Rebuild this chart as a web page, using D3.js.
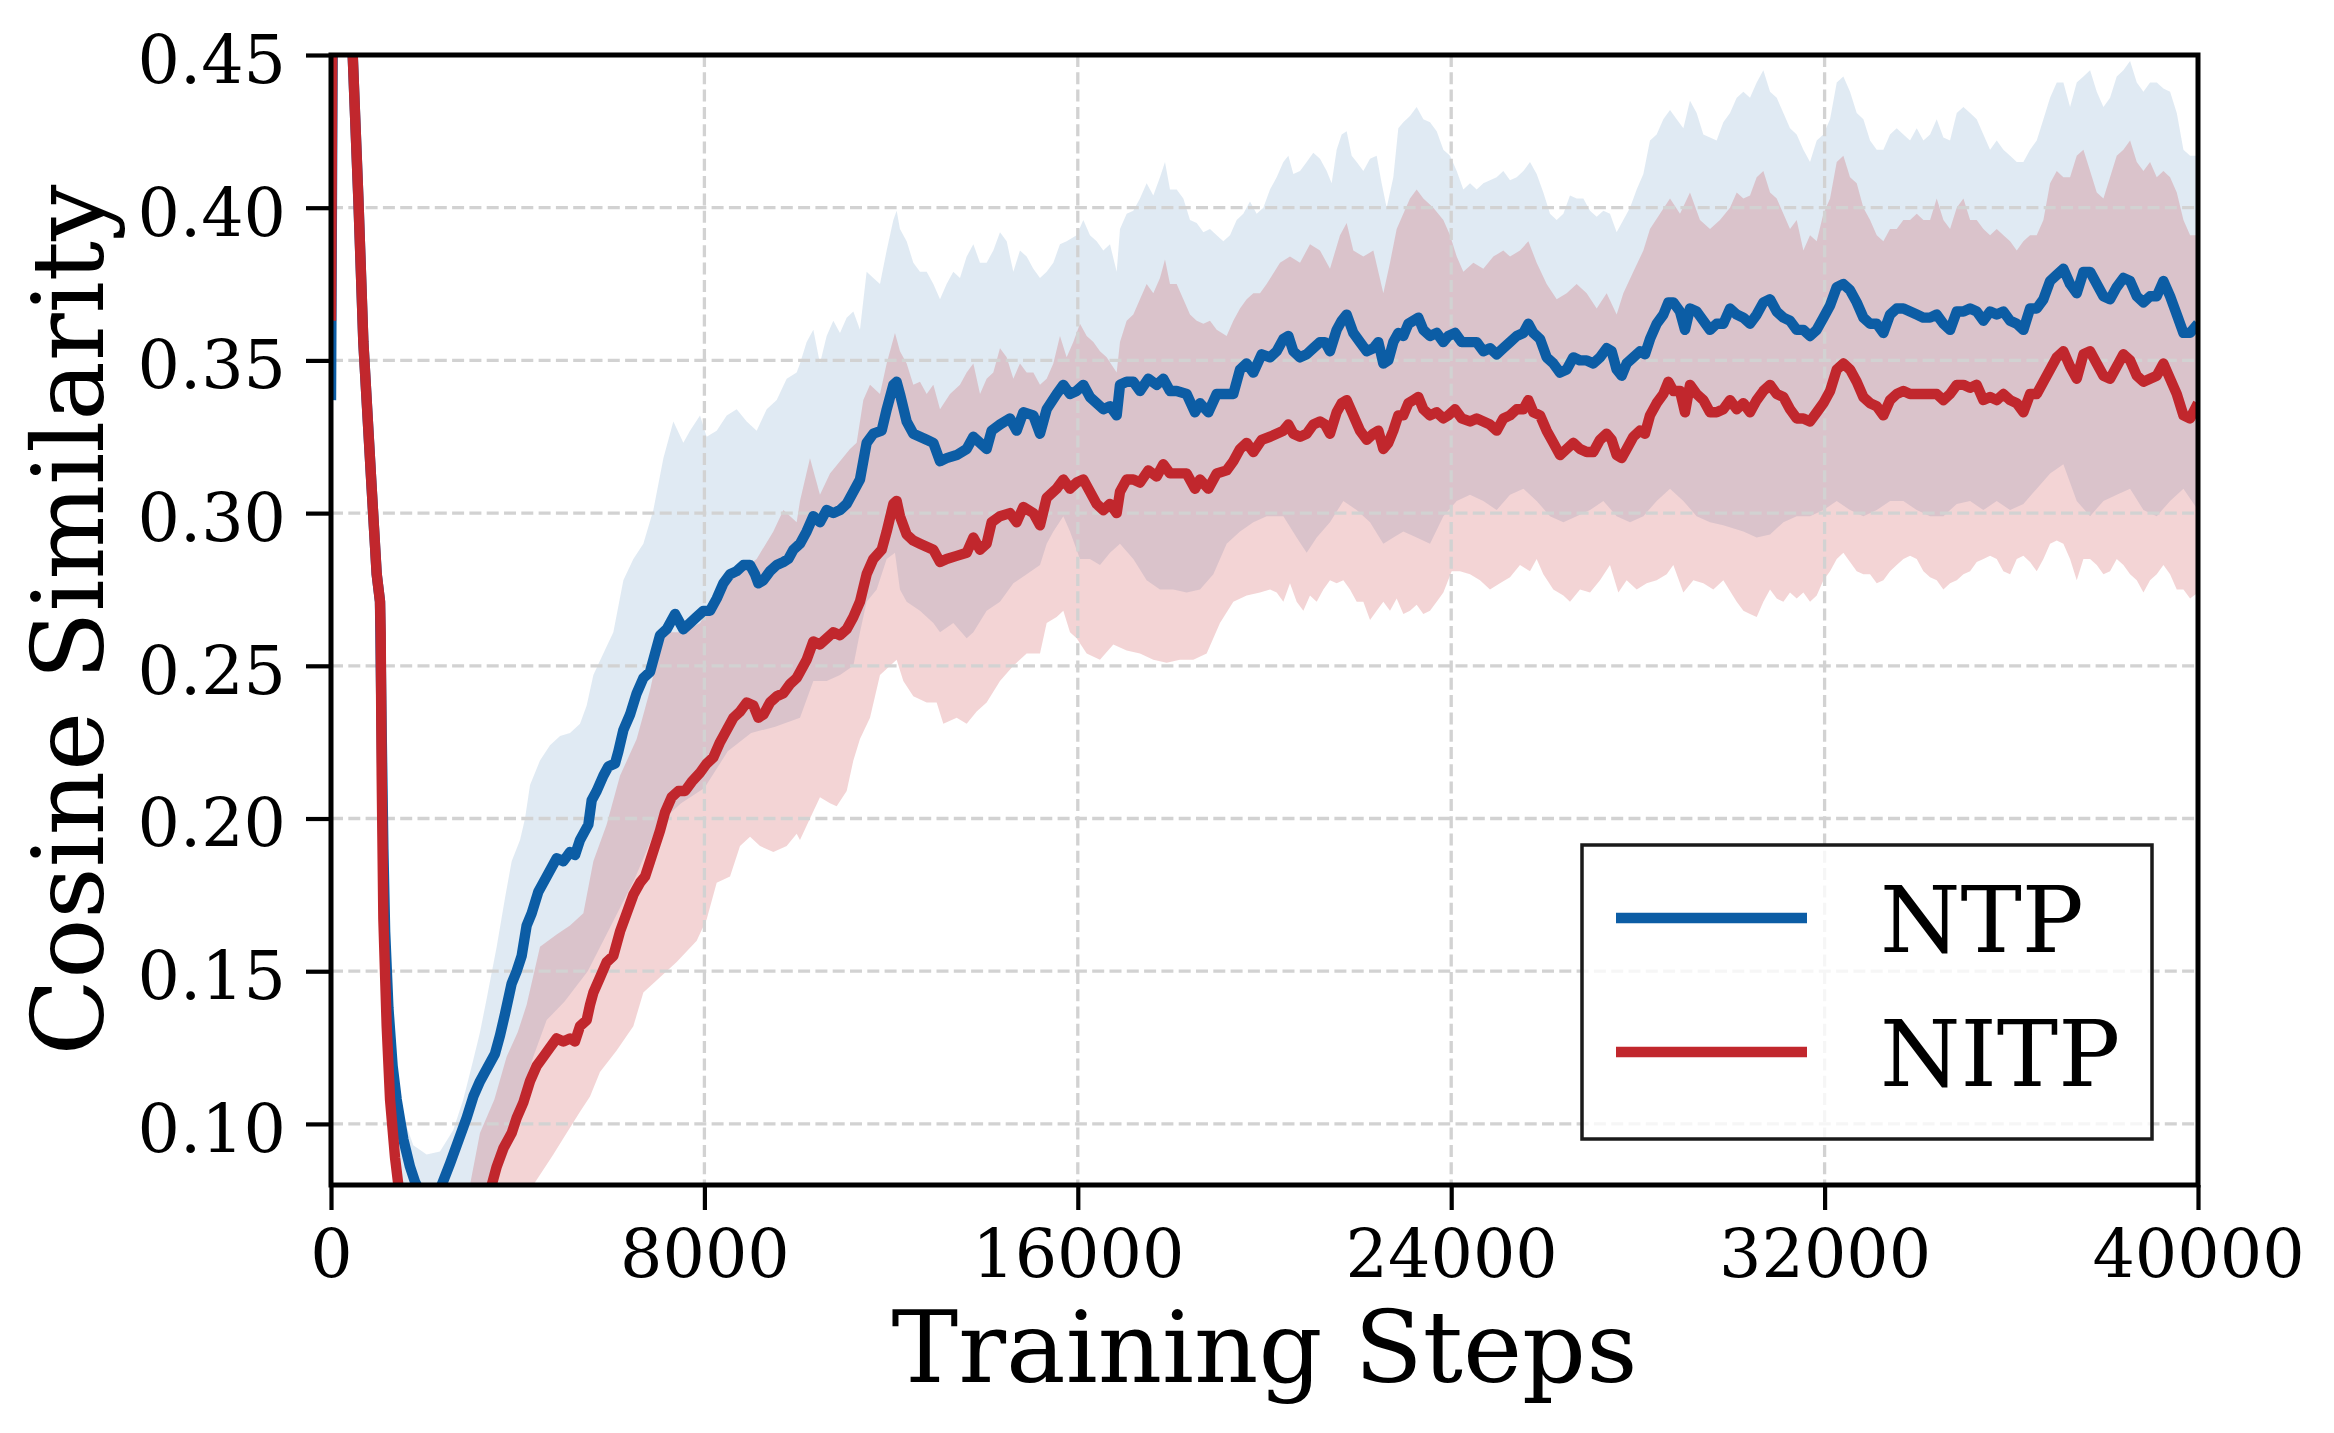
<!DOCTYPE html>
<html><head><meta charset="utf-8">
<script src="https://cdn.jsdelivr.net/npm/d3@7"></script>
<style>
html,body{margin:0;padding:0;background:#fff;}
svg{display:block;}
text{font-family:"DejaVu Serif",serif;fill:#000;}
</style></head><body>
<svg id="chart" width="2334" height="1433"></svg>
<script>
// ---------------- data ----------------
const xTicks = [0, 8000, 16000, 24000, 32000, 40000];
const yTicks = [0.10, 0.15, 0.20, 0.25, 0.30, 0.35, 0.40, 0.45];
const seriesNames = ["NTP", "NITP"];
const xLabel = "Training Steps";
const yLabel = "Cosine Similarity";

// [step, value]
const ntpMean = [
[0,0.337],[50,0.50],[100,0.56],[200,0.58],[300,0.54],[400,0.49],[465,0.45],[586,0.403],[693,0.356],[872,0.308],[979,0.280],[1050,0.271],[1086,0.228],[1122,0.190],[1160,0.163],[1230,0.138],[1320,0.119],[1407,0.108],[1549,0.095],[1692,0.086],[1800,0.081],[2000,0.075],[2200,0.074],[2372,0.080],[2550,0.087],[2693,0.093],[2907,0.102],[3050,0.109],[3193,0.114],[3371,0.119],[3514,0.123],[3621,0.129],[3728,0.136],[3871,0.146],[3978,0.150],[4085,0.155],[4192,0.165],[4300,0.169],[4442,0.176],[4621,0.181],[4835,0.187],[4978,0.186],[5121,0.189],[5228,0.188],[5335,0.193],[5514,0.198],[5585,0.206],[5692,0.209],[5835,0.214],[5942,0.217],[6085,0.218],[6157,0.222],[6264,0.229],[6406,0.234],[6549,0.241],[6692,0.246],[6835,0.248],[6942,0.254],[7049,0.260],[7192,0.262],[7371,0.267],[7549,0.262],[7692,0.264],[7835,0.266],[7978,0.268],[8120,0.268],[8263,0.272],[8406,0.277],[8549,0.280],[8692,0.281],[8835,0.283],[8978,0.283],[9084,0.280],[9156,0.277],[9263,0.278],[9406,0.281],[9549,0.283],[9692,0.284],[9798,0.285],[9906,0.288],
[10048,0.290],[10191,0.294],[10334,0.299],[10476,0.297],[10619,0.301],[10762,0.300],[10905,0.301],[11048,0.303],[11191,0.307],[11333,0.311],[11476,0.323],[11619,0.326],[11798,0.327],[11906,0.334],[12048,0.342],[12119,0.343],[12190,0.339],[12333,0.330],[12476,0.326],[12619,0.325],[12762,0.324],[12905,0.323],[13048,0.317],[13190,0.318],[13405,0.319],[13619,0.321],[13762,0.325],[13905,0.323],[14047,0.321],[14154,0.327],[14333,0.329],[14547,0.331],[14690,0.327],[14833,0.333],[15047,0.332],[15190,0.326],[15333,0.334],[15547,0.339],[15690,0.342],[15833,0.339],[15975,0.340],[16118,0.342],[16261,0.338],[16404,0.336],[16547,0.334],[16690,0.335],[16833,0.332],[16904,0.342],[17047,0.343],[17190,0.343],[17332,0.340],[17511,0.344],[17690,0.342],[17832,0.344],[17975,0.340],[18118,0.340],[18332,0.339],[18511,0.333],[18618,0.336],[18797,0.333],[18975,0.339],[19189,0.339],[19332,0.339],[19475,0.347],[19618,0.349],[19761,0.346],[19939,0.352],[20118,0.351],
[20261,0.353],[20404,0.357],[20511,0.358],[20618,0.353],[20761,0.351],[20904,0.352],[21046,0.354],[21189,0.356],[21296,0.356],[21403,0.353],[21546,0.360],[21653,0.363],[21760,0.365],[21903,0.359],[22046,0.356],[22189,0.353],[22332,0.354],[22439,0.356],[22546,0.349],[22653,0.350],[22760,0.356],[22867,0.359],[22974,0.358],[23082,0.362],[23189,0.363],[23296,0.364],[23403,0.360],[23546,0.358],[23689,0.359],[23832,0.356],[23939,0.358],[24081,0.359],[24224,0.356],[24403,0.356],[24546,0.356],[24689,0.353],[24831,0.354],[24974,0.352],[25117,0.354],[25260,0.356],[25403,0.358],[25546,0.359],[25653,0.362],[25760,0.359],[25903,0.357],[26045,0.351],[26188,0.349],[26331,0.346],[26474,0.347],[26617,0.351],[26760,0.350],[26903,0.350],[27045,0.349],[27188,0.351],[27331,0.354],[27438,0.353],[27545,0.347],[27652,0.345],[27759,0.349],[27902,0.351],[28045,0.353],[28152,0.352],[28259,0.357],[28402,0.362],[28545,0.365],[28652,0.369],[28759,0.369],[28902,0.366],[29009,0.360],[29116,0.367],[29259,0.366],[29402,0.363],[29545,0.360],[29687,0.362],[29830,0.362],
[29974,0.367],[30117,0.365],[30260,0.364],[30402,0.362],[30545,0.365],[30688,0.369],[30831,0.370],[30974,0.366],[31117,0.364],[31259,0.363],[31402,0.360],[31545,0.360],[31688,0.358],[31831,0.360],[31974,0.364],[32117,0.368],[32260,0.374],[32402,0.375],[32545,0.373],[32688,0.369],[32831,0.364],[32974,0.362],[33117,0.362],[33259,0.359],[33402,0.365],[33545,0.367],[33688,0.367],[33831,0.366],[33974,0.365],[34117,0.364],[34260,0.364],[34402,0.365],[34545,0.362],[34688,0.360],[34831,0.366],[34974,0.366],[35117,0.367],[35259,0.366],[35402,0.363],[35545,0.366],[35688,0.365],[35831,0.366],[35974,0.363],[36117,0.362],[36259,0.360],[36402,0.367],[36545,0.367],[36688,0.370],[36831,0.376],[36974,0.378],[37116,0.380],[37259,0.375],[37402,0.372],[37545,0.379],[37688,0.379],[37831,0.375],[37974,0.371],[38116,0.370],[38259,0.374],[38402,0.377],[38545,0.376],[38688,0.371],[38831,0.369],[38973,0.371],[39116,0.371],[39259,0.376],[39402,0.371],[39545,0.365],[39688,0.359],[39831,0.359],[40000,0.362]
];

const nitpMean = [
[0,0.363],[50,0.52],[100,0.57],[200,0.58],[300,0.54],[400,0.48],[465,0.45],[586,0.403],[693,0.356],[872,0.308],[979,0.280],[1050,0.271],[1064,0.261],[1086,0.214],[1122,0.167],[1193,0.132],[1265,0.108],[1372,0.089],[1443,0.080],[1600,0.068],[2000,0.056],[2500,0.055],[3000,0.066],[3300,0.075],[3443,0.080],
[3550,0.086],[3693,0.092],[3871,0.097],[3978,0.102],[4121,0.107],[4264,0.114],[4407,0.119],[4550,0.122],[4692,0.125],[4835,0.128],[4978,0.127],[5121,0.128],[5228,0.127],[5335,0.132],[5478,0.134],[5549,0.139],[5621,0.143],[5764,0.148],[5906,0.153],[6049,0.155],[6192,0.163],[6335,0.169],[6478,0.175],[6621,0.179],[6728,0.181],[6835,0.186],[6942,0.191],[7049,0.196],[7156,0.202],[7299,0.207],[7442,0.209],[7585,0.209],[7728,0.212],[7906,0.215],[8049,0.218],[8192,0.220],[8335,0.225],[8478,0.229],[8621,0.233],[8763,0.235],[8906,0.238],[9049,0.237],[9156,0.233],[9263,0.234],[9406,0.238],[9549,0.240],[9692,0.241],[9834,0.244],[9977,0.246],
[10048,0.248],[10191,0.252],[10334,0.258],[10476,0.257],[10619,0.259],[10762,0.261],[10905,0.260],[11048,0.262],[11191,0.266],[11333,0.271],[11476,0.280],[11619,0.285],[11798,0.288],[11906,0.294],[12048,0.303],[12119,0.304],[12190,0.299],[12333,0.293],[12476,0.291],[12619,0.290],[12762,0.289],[12905,0.288],[13048,0.284],[13190,0.285],[13405,0.286],[13619,0.287],[13762,0.292],[13905,0.288],[14047,0.290],[14154,0.297],[14333,0.299],[14547,0.300],[14690,0.297],[14833,0.302],[15047,0.300],[15190,0.296],[15333,0.305],[15547,0.308],[15690,0.311],[15833,0.308],[15975,0.310],[16118,0.311],[16261,0.307],[16404,0.303],[16547,0.301],[16690,0.303],[16833,0.300],[16904,0.307],[17047,0.311],[17190,0.311],[17332,0.310],[17511,0.314],[17690,0.312],[17832,0.316],[17975,0.313],[18118,0.313],[18332,0.313],[18511,0.308],[18618,0.311],[18797,0.308],[18975,0.313],[19189,0.314],[19332,0.317],[19475,0.321],[19618,0.323],[19761,0.320],[19939,0.324],[20118,0.325],
[20261,0.326],[20404,0.327],[20511,0.329],[20618,0.326],[20761,0.325],[20904,0.326],[21046,0.329],[21189,0.330],[21296,0.329],[21403,0.326],[21546,0.333],[21653,0.336],[21760,0.337],[21903,0.332],[22046,0.327],[22189,0.324],[22332,0.326],[22439,0.327],[22546,0.321],[22653,0.323],[22760,0.327],[22867,0.332],[22974,0.332],[23082,0.336],[23189,0.337],[23296,0.338],[23403,0.334],[23546,0.332],[23689,0.333],[23832,0.331],[23939,0.332],[24081,0.334],[24224,0.331],[24403,0.330],[24546,0.331],[24689,0.330],[24831,0.329],[24974,0.327],[25117,0.331],[25260,0.332],[25403,0.334],[25546,0.334],[25653,0.337],[25760,0.333],[25903,0.332],[26045,0.327],[26188,0.323],[26331,0.319],[26474,0.321],[26617,0.323],[26760,0.321],[26903,0.320],[27045,0.320],[27188,0.324],[27331,0.326],[27438,0.324],[27545,0.319],[27652,0.318],[27759,0.321],[27902,0.325],[28045,0.327],[28152,0.326],[28259,0.332],[28402,0.336],[28545,0.339],[28652,0.343],[28759,0.340],[28902,0.340],[29009,0.333],[29116,0.342],[29259,0.339],[29402,0.337],[29545,0.333],[29687,0.333],[29830,0.334],
[29974,0.337],[30117,0.334],[30260,0.336],[30402,0.333],[30545,0.337],[30688,0.340],[30831,0.342],[30974,0.339],[31117,0.338],[31259,0.334],[31402,0.331],[31545,0.331],[31688,0.330],[31831,0.333],[31974,0.336],[32117,0.340],[32260,0.347],[32402,0.349],[32545,0.347],[32688,0.343],[32831,0.338],[32974,0.336],[33117,0.335],[33259,0.332],[33402,0.337],[33545,0.339],[33688,0.340],[33831,0.339],[33974,0.339],[34117,0.339],[34260,0.339],[34402,0.339],[34545,0.337],[34688,0.339],[34831,0.342],[34974,0.342],[35117,0.341],[35259,0.342],[35402,0.337],[35545,0.338],[35688,0.337],[35831,0.339],[35974,0.337],[36117,0.336],[36259,0.333],[36402,0.339],[36545,0.339],[36688,0.343],[36831,0.347],[36974,0.351],[37116,0.353],[37259,0.348],[37402,0.344],[37545,0.352],[37688,0.353],[37831,0.349],[37974,0.345],[38116,0.344],[38259,0.348],[38402,0.352],[38545,0.350],[38688,0.345],[38831,0.343],[38973,0.344],[39116,0.345],[39259,0.349],[39402,0.344],[39545,0.339],[39688,0.332],[39831,0.331],[40000,0.336]
];

const ntpUpper = [
[0,0.340],[50,0.52],[100,0.58],[200,0.595],[300,0.555],[400,0.50],[465,0.465],[586,0.418],[693,0.371],[872,0.323],[979,0.295],[1050,0.284],[1100,0.240],[1160,0.180],[1230,0.152],[1320,0.132],[1407,0.118],[1500,0.107],[1600,0.100],[1763,0.093],[2049,0.090],[2335,0.091],[2620,0.098],[2834,0.108],[3049,0.121],[3192,0.130],[3335,0.141],[3550,0.158],[3728,0.174],[3871,0.186],[4050,0.193],[4157,0.200],[4264,0.211],[4478,0.219],[4692,0.224],[4907,0.227],[5121,0.228],[5335,0.231],[5478,0.237],[5621,0.247],[5835,0.254],[6049,0.261],[6264,0.278],[6478,0.285],[6692,0.290],[6906,0.301],[7121,0.318],[7335,0.330],[7549,0.323],[7692,0.327],[7906,0.332],[8049,0.325],[8263,0.327],[8478,0.332],[8692,0.334],[8906,0.330],[9120,0.327],[9335,0.334],[9549,0.337],[9763,0.344],[9977,0.346],
[10048,0.349],[10191,0.356],[10334,0.360],[10476,0.349],[10619,0.358],[10762,0.363],[10905,0.359],[11048,0.364],[11191,0.366],[11333,0.360],[11476,0.379],[11619,0.377],[11762,0.375],[11905,0.386],[12048,0.396],[12119,0.399],[12190,0.393],[12333,0.389],[12476,0.382],[12619,0.379],[12762,0.379],[12905,0.375],[13048,0.370],[13190,0.375],[13333,0.379],[13476,0.377],[13619,0.384],[13762,0.388],[13904,0.382],[14047,0.382],[14190,0.386],[14333,0.392],[14476,0.389],[14619,0.379],[14761,0.386],[14904,0.384],[15047,0.380],[15190,0.377],[15333,0.379],[15476,0.382],[15618,0.388],[15761,0.389],[15975,0.391],[16118,0.396],[16261,0.391],[16404,0.389],[16547,0.386],[16690,0.388],[16833,0.379],[16904,0.393],[17047,0.398],[17190,0.399],[17332,0.403],[17475,0.408],[17618,0.404],[17761,0.410],[17868,0.415],[17975,0.406],[18118,0.406],[18261,0.403],[18404,0.396],[18547,0.395],[18690,0.392],[18832,0.393],[18975,0.391],[19118,0.389],[19261,0.391],[19404,0.396],[19546,0.398],[19689,0.402],[19832,0.398],[19975,0.400],[20118,0.406],
[20261,0.410],[20404,0.415],[20511,0.417],[20618,0.411],[20761,0.412],[20904,0.415],[21046,0.418],[21189,0.416],[21332,0.412],[21439,0.408],[21546,0.419],[21653,0.424],[21760,0.425],[21868,0.417],[21975,0.415],[22118,0.412],[22261,0.416],[22403,0.417],[22510,0.408],[22618,0.400],[22760,0.410],[22867,0.426],[22974,0.428],[23117,0.430],[23260,0.433],[23403,0.429],[23546,0.428],[23689,0.425],[23832,0.419],[23975,0.417],[24118,0.412],[24260,0.406],[24403,0.408],[24546,0.406],[24689,0.408],[24831,0.409],[24974,0.410],[25117,0.412],[25260,0.409],[25403,0.410],[25546,0.412],[25688,0.415],[25831,0.411],[25974,0.405],[26117,0.398],[26260,0.396],[26403,0.398],[26545,0.404],[26688,0.403],[26831,0.403],[26974,0.399],[27117,0.397],[27260,0.399],[27402,0.398],[27545,0.392],[27688,0.396],[27831,0.400],[27974,0.406],[28117,0.411],[28259,0.422],[28402,0.424],[28545,0.429],[28688,0.432],[28831,0.429],[28974,0.426],[29116,0.435],[29259,0.431],[29402,0.424],[29545,0.423],[29687,0.422],[29830,0.428],
[29974,0.431],[30117,0.436],[30260,0.438],[30402,0.436],[30545,0.441],[30688,0.445],[30831,0.438],[30974,0.436],[31117,0.431],[31259,0.426],[31402,0.424],[31545,0.419],[31688,0.415],[31831,0.422],[31974,0.424],[32117,0.429],[32260,0.441],[32402,0.443],[32545,0.438],[32688,0.431],[32831,0.429],[32974,0.422],[33117,0.419],[33259,0.419],[33402,0.424],[33545,0.426],[33688,0.424],[33831,0.422],[33974,0.426],[34117,0.422],[34260,0.424],[34402,0.429],[34545,0.423],[34688,0.422],[34831,0.431],[34974,0.433],[35117,0.431],[35259,0.429],[35402,0.424],[35545,0.419],[35688,0.422],[35831,0.419],[35974,0.417],[36117,0.415],[36259,0.415],[36402,0.419],[36545,0.422],[36688,0.429],[36831,0.436],[36974,0.441],[37116,0.441],[37259,0.433],[37402,0.441],[37545,0.443],[37688,0.445],[37831,0.438],[37974,0.433],[38116,0.436],[38259,0.443],[38402,0.445],[38545,0.448],[38688,0.441],[38831,0.438],[38973,0.441],[39116,0.441],[39259,0.439],[39402,0.438],[39545,0.431],[39688,0.419],[39831,0.417],[40000,0.417]
];

const ntpLower = [
[0,0.337],[50,0.495],[100,0.555],[200,0.575],[300,0.535],[400,0.485],[465,0.445],[586,0.398],[693,0.351],[872,0.303],[979,0.275],[1050,0.266],[1086,0.220],[1122,0.170],[1160,0.140],[1230,0.115],[1320,0.100],[1407,0.090],[1500,0.080],[1600,0.070],[2000,0.055],[2500,0.055],[3000,0.065],[3500,0.080],[3906,0.095],[4049,0.108],[4334,0.122],[4620,0.134],[5000,0.140],[5500,0.150],[6000,0.165],[6500,0.180],[7000,0.198],[7500,0.205],[8000,0.210],[8500,0.222],[9000,0.228],[9500,0.230],
[10048,0.233],[10334,0.245],[10619,0.245],[10905,0.247],[11191,0.250],[11333,0.261],[11476,0.271],[11691,0.275],[11905,0.285],[12083,0.287],[12190,0.275],[12333,0.271],[12619,0.268],[12905,0.264],[13048,0.261],[13333,0.264],[13619,0.259],[13762,0.261],[14047,0.268],[14333,0.271],[14619,0.277],[14904,0.280],[15190,0.283],[15333,0.290],[15476,0.294],[15690,0.299],[15833,0.294],[16047,0.285],[16261,0.285],[16475,0.283],[16690,0.287],[16904,0.290],[17190,0.285],[17475,0.278],[17761,0.275],[18047,0.275],[18332,0.274],[18618,0.275],[18904,0.280],[19189,0.290],[19475,0.294],[19761,0.297],[20046,0.299],
[20404,0.299],[20689,0.292],[20904,0.287],[21118,0.292],[21403,0.297],[21689,0.304],[21975,0.301],[22261,0.297],[22546,0.290],[22760,0.292],[22975,0.294],[23260,0.292],[23546,0.290],[23832,0.299],[24118,0.304],[24403,0.306],[24689,0.304],[24974,0.301],[25260,0.306],[25546,0.308],[25831,0.304],[26117,0.299],[26403,0.297],[26688,0.299],[26974,0.301],[27260,0.304],[27545,0.299],[27831,0.297],[28117,0.299],[28402,0.304],[28688,0.308],[28974,0.304],[29259,0.299],[29545,0.297],[29830,0.296],
[30260,0.294],[30545,0.292],[30831,0.293],[31117,0.297],[31402,0.299],[31688,0.299],[31974,0.301],[32260,0.304],[32545,0.301],[32831,0.299],[33117,0.301],[33402,0.304],[33688,0.304],[33974,0.301],[34260,0.299],[34545,0.299],[34831,0.303],[35117,0.304],[35402,0.301],[35688,0.304],[35974,0.301],[36259,0.303],[36545,0.308],[36831,0.313],[37116,0.316],[37402,0.304],[37688,0.299],[37974,0.304],[38259,0.306],[38545,0.308],[38831,0.301],[39116,0.299],[39402,0.304],[39688,0.308],[40000,0.301]
];

const nitpUpper = [
[0,0.363],[50,0.525],[100,0.575],[200,0.585],[300,0.545],[400,0.485],[465,0.455],[586,0.408],[693,0.361],[872,0.313],[979,0.285],[1050,0.276],[1064,0.266],[1086,0.219],[1122,0.172],[1193,0.137],[1265,0.113],[1372,0.094],[1443,0.085],[1600,0.075],[2000,0.065],[2500,0.068],[2978,0.080],[3192,0.097],[3500,0.108],[3763,0.122],[4000,0.130],[4192,0.139],[4478,0.158],[4835,0.162],[5121,0.165],[5407,0.169],[5621,0.186],[5906,0.198],[6192,0.214],[6549,0.226],[6835,0.242],[7049,0.257],[7192,0.261],[7549,0.261],[7906,0.264],[8335,0.275],[8692,0.280],[9120,0.285],[9477,0.294],[9692,0.301],[9977,0.297],
[10048,0.304],[10262,0.318],[10476,0.306],[10691,0.313],[10905,0.317],[11119,0.321],[11262,0.323],[11405,0.337],[11548,0.342],[11762,0.339],[11905,0.349],[12083,0.359],[12190,0.353],[12333,0.349],[12476,0.342],[12619,0.343],[12762,0.339],[12905,0.342],[13048,0.334],[13262,0.339],[13476,0.342],[13619,0.346],[13762,0.349],[13905,0.339],[14047,0.344],[14190,0.346],[14333,0.354],[14476,0.351],[14619,0.344],[14761,0.349],[14904,0.346],[15047,0.346],[15190,0.342],[15333,0.344],[15476,0.349],[15618,0.358],[15761,0.351],[15904,0.356],[16047,0.362],[16190,0.358],[16333,0.356],[16475,0.353],[16618,0.351],[16833,0.346],[16904,0.356],[17047,0.363],[17190,0.365],[17332,0.370],[17475,0.375],[17618,0.372],[17761,0.377],[17868,0.383],[17975,0.375],[18118,0.375],[18261,0.370],[18404,0.365],[18547,0.363],[18690,0.362],[18832,0.363],[18975,0.360],[19189,0.358],[19332,0.363],[19475,0.367],[19618,0.370],[19761,0.372],[19903,0.372],[20046,0.375],
[20332,0.382],[20546,0.384],[20761,0.382],[20975,0.388],[21189,0.386],[21403,0.380],[21618,0.391],[21760,0.395],[21903,0.386],[22118,0.384],[22332,0.386],[22546,0.372],[22689,0.382],[22832,0.393],[22974,0.398],[23117,0.403],[23260,0.406],[23403,0.403],[23617,0.400],[23832,0.396],[23975,0.391],[24118,0.384],[24260,0.379],[24475,0.382],[24689,0.380],[24903,0.384],[25117,0.386],[25260,0.384],[25474,0.386],[25653,0.389],[25831,0.382],[26045,0.375],[26260,0.370],[26474,0.372],[26688,0.375],[26903,0.372],[27117,0.367],[27331,0.372],[27545,0.365],[27688,0.372],[27902,0.379],[28117,0.386],[28259,0.393],[28473,0.398],[28688,0.403],[28902,0.398],[29116,0.405],[29330,0.396],[29545,0.393],[29759,0.396],[29973,0.400],
[30117,0.405],[30260,0.403],[30402,0.404],[30545,0.410],[30688,0.412],[30831,0.405],[30974,0.403],[31117,0.398],[31259,0.393],[31402,0.396],[31545,0.386],[31688,0.391],[31831,0.389],[31974,0.398],[32117,0.403],[32260,0.415],[32402,0.417],[32545,0.410],[32688,0.408],[32831,0.400],[32974,0.396],[33117,0.391],[33259,0.389],[33402,0.393],[33545,0.393],[33688,0.396],[33831,0.396],[33974,0.398],[34117,0.396],[34260,0.396],[34402,0.403],[34545,0.396],[34688,0.393],[34831,0.400],[34974,0.403],[35117,0.396],[35259,0.396],[35402,0.393],[35545,0.391],[35688,0.393],[35831,0.391],[35974,0.389],[36117,0.386],[36259,0.389],[36402,0.391],[36545,0.391],[36688,0.396],[36831,0.408],[36974,0.412],[37116,0.410],[37259,0.410],[37402,0.417],[37545,0.419],[37688,0.412],[37831,0.405],[37974,0.403],[38116,0.410],[38259,0.417],[38402,0.419],[38545,0.422],[38688,0.415],[38831,0.412],[38973,0.415],[39116,0.410],[39259,0.412],[39402,0.410],[39545,0.405],[39688,0.396],[39831,0.391],[40000,0.391]
];

const nitpLower = [
[0,0.358],[50,0.515],[100,0.565],[200,0.575],[300,0.535],[400,0.475],[465,0.445],[586,0.398],[693,0.351],[872,0.303],[979,0.275],[1050,0.266],[1064,0.256],[1086,0.209],[1122,0.162],[1193,0.127],[1265,0.103],[1372,0.084],[1443,0.075],[1600,0.060],[2000,0.045],[3000,0.045],[4000,0.065],[4334,0.080],[4763,0.090],[5049,0.097],[5335,0.104],[5549,0.109],[5763,0.117],[6120,0.124],[6477,0.132],[6692,0.143],[7049,0.148],[7406,0.153],[7835,0.160],[8049,0.167],[8263,0.179],[8549,0.181],[8763,0.191],[8978,0.194],[9192,0.191],[9477,0.189],[9763,0.191],[9977,0.195],
[10048,0.193],[10262,0.200],[10476,0.207],[10691,0.205],[10834,0.204],[11048,0.209],[11191,0.219],[11333,0.226],[11548,0.233],[11762,0.247],[11976,0.250],[12119,0.252],[12262,0.245],[12476,0.240],[12762,0.238],[12976,0.238],[13119,0.231],[13405,0.233],[13619,0.231],[13833,0.235],[14047,0.238],[14333,0.245],[14619,0.250],[14904,0.254],[15190,0.254],[15333,0.264],[15547,0.266],[15690,0.268],[15833,0.261],[15975,0.259],[16190,0.254],[16475,0.252],[16761,0.257],[17047,0.255],[17332,0.254],[17618,0.252],[17904,0.251],[18189,0.252],[18475,0.252],[18761,0.254],[19046,0.264],[19332,0.271],[19618,0.273],[19903,0.274],[20118,0.275],
[20261,0.274],[20404,0.271],[20546,0.277],[20689,0.271],[20832,0.268],[20975,0.273],[21118,0.271],[21261,0.275],[21403,0.278],[21546,0.277],[21689,0.278],[21832,0.275],[21975,0.271],[22118,0.271],[22261,0.265],[22403,0.268],[22546,0.271],[22689,0.268],[22832,0.272],[22975,0.267],[23117,0.268],[23260,0.270],[23403,0.267],[23546,0.268],[23689,0.271],[23832,0.274],[24010,0.281],[24189,0.281],[24403,0.280],[24617,0.278],[24831,0.275],[25045,0.277],[25260,0.279],[25474,0.283],[25688,0.281],[25831,0.285],[25974,0.280],[26188,0.275],[26403,0.273],[26545,0.271],[26760,0.275],[26974,0.274],[27188,0.278],[27402,0.283],[27581,0.274],[27759,0.278],[27974,0.275],[28188,0.277],[28402,0.278],[28617,0.280],[28759,0.283],[28974,0.274],[29188,0.278],[29402,0.277],[29616,0.275],[29830,0.278],
[30117,0.271],[30260,0.268],[30402,0.267],[30545,0.266],[30688,0.271],[30831,0.275],[30974,0.272],[31117,0.271],[31259,0.274],[31402,0.272],[31545,0.274],[31688,0.271],[31831,0.273],[31974,0.278],[32117,0.281],[32260,0.285],[32402,0.287],[32545,0.284],[32688,0.281],[32831,0.280],[32974,0.280],[33117,0.277],[33259,0.278],[33402,0.281],[33545,0.283],[33688,0.285],[33831,0.286],[33974,0.285],[34117,0.281],[34260,0.279],[34402,0.278],[34545,0.275],[34688,0.277],[34831,0.278],[34974,0.280],[35117,0.281],[35259,0.284],[35402,0.285],[35545,0.286],[35688,0.285],[35831,0.281],[35974,0.280],[36117,0.285],[36259,0.286],[36402,0.284],[36545,0.281],[36688,0.285],[36831,0.290],[36974,0.291],[37116,0.290],[37259,0.285],[37402,0.278],[37545,0.285],[37688,0.285],[37831,0.283],[37974,0.280],[38116,0.281],[38259,0.285],[38402,0.283],[38545,0.280],[38688,0.278],[38831,0.274],[38973,0.278],[39116,0.280],[39259,0.283],[39402,0.280],[39545,0.275],[39688,0.275],[39831,0.272],[40000,0.274]
];

const colors = {NTP: "#0C5DA5", NITP: "#C1272D"};

// ---------------- layout ----------------
const plot = {left: 331, right: 2198, top: 55, bottom: 1185};
const x = d3.scaleLinear().domain([0, 40000]).range([plot.left, plot.right]);
const y = d3.scaleLinear().domain([0.08, 0.45]).range([plot.bottom, plot.top]);

const svg = d3.select("#chart");
svg.append("rect").attr("width", 2334).attr("height", 1433).attr("fill", "#fff");
svg.append("defs").append("clipPath").attr("id", "clip")
  .append("rect").attr("x", plot.left).attr("y", plot.top)
  .attr("width", plot.right - plot.left).attr("height", plot.bottom - plot.top);

const g = svg.append("g").attr("clip-path", "url(#clip)");
const line = d3.line().x(d => x(d[0])).y(d => y(d[1]));

function band(up, lo) { return line(up.concat(lo.slice().reverse())) + "Z"; }

// bands
g.append("path").attr("d", band(ntpUpper, ntpLower))
  .attr("fill", colors.NTP).attr("fill-opacity", 0.13).attr("stroke", "none");
g.append("path").attr("d", band(nitpUpper, nitpLower))
  .attr("fill", colors.NITP).attr("fill-opacity", 0.2).attr("stroke", "none");

// grid
const grid = g.append("g").attr("stroke", "#d2d2d2").attr("stroke-width", 3.3).attr("stroke-dasharray", "12,5.3");
grid.selectAll("line.v").data(xTicks).join("line").attr("class", "v")
  .attr("x1", d => x(d)).attr("x2", d => x(d)).attr("y1", plot.top).attr("y2", plot.bottom);
grid.selectAll("line.h").data(yTicks).join("line").attr("class", "h")
  .attr("x1", plot.left).attr("x2", plot.right).attr("y1", d => y(d)).attr("y2", d => y(d));

// mean lines
g.append("path").attr("d", line(ntpMean)).attr("fill", "none")
  .attr("stroke", colors.NTP).attr("stroke-width", 10.4).attr("stroke-linejoin", "round");
g.append("path").attr("d", line(nitpMean)).attr("fill", "none")
  .attr("stroke", colors.NITP).attr("stroke-width", 10.4).attr("stroke-linejoin", "round");

// axes
const xAxis = d3.axisBottom(x).tickValues(xTicks).tickFormat(d3.format("d")).tickSize(25).tickPadding(20);
const yAxis = d3.axisLeft(y).tickValues(yTicks).tickFormat(d3.format(".2f")).tickSize(25).tickPadding(20);
const gx = svg.append("g").attr("transform", `translate(0,${plot.bottom})`).call(xAxis);
const gy = svg.append("g").attr("transform", `translate(${plot.left},0)`).call(yAxis);
[gx, gy].forEach(a => {
  a.select(".domain").remove();
  a.selectAll(".tick line").attr("stroke", "#000").attr("stroke-width", 4.2);
  a.selectAll(".tick text").attr("font-family", "DejaVu Serif").attr("font-size", 66.7).attr("fill", "#000");
});
gy.selectAll(".tick text").attr("dy", "0.41em");

// spines
svg.append("rect").attr("x", plot.left).attr("y", plot.top)
  .attr("width", plot.right - plot.left).attr("height", plot.bottom - plot.top)
  .attr("fill", "none").attr("stroke", "#000").attr("stroke-width", 5);

// axis labels
svg.append("text").attr("x", (plot.left + plot.right) / 2).attr("y", 1382)
  .attr("text-anchor", "middle").attr("font-size", 100).text(xLabel);
svg.append("text").attr("transform", `translate(103,${(plot.top + plot.bottom) / 2}) rotate(-90)`)
  .attr("text-anchor", "middle").attr("font-size", 100).text(yLabel);

// legend
const lg = svg.append("g");
lg.append("rect").attr("x", 1582).attr("y", 845).attr("width", 570).attr("height", 294)
  .attr("fill", "#fff").attr("fill-opacity", 0.8).attr("stroke", "#1a1a1a").attr("stroke-width", 3.5);
const legendRows = [{name: seriesNames[0], ly: 918, ty: 952}, {name: seriesNames[1], ly: 1052, ty: 1086}];
legendRows.forEach(r => {
  lg.append("line").attr("x1", 1616).attr("x2", 1807).attr("y1", r.ly).attr("y2", r.ly)
    .attr("stroke", colors[r.name]).attr("stroke-width", 10.4);
  lg.append("text").attr("x", 1880).attr("y", r.ty).attr("font-size", 92).text(r.name);
});
</script>
</body></html>
